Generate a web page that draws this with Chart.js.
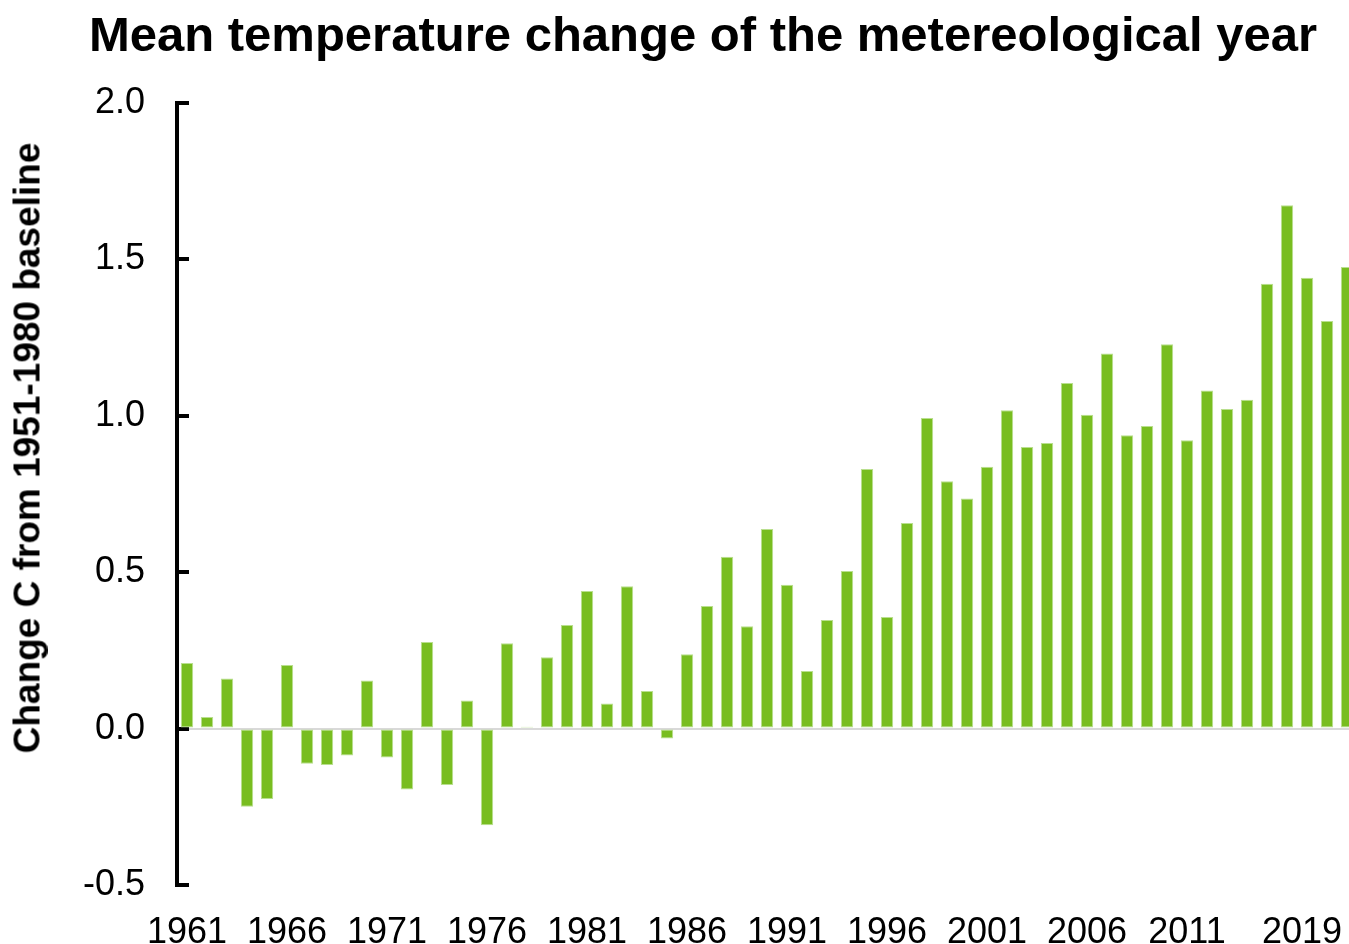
<!DOCTYPE html>
<html>
<head>
<meta charset="utf-8">
<title>Mean temperature change of the metereological year</title>
<script src="https://cdn.jsdelivr.net/npm/chart.js@4.4.1/dist/chart.umd.min.js"></script>
<style>
    body { margin: 0; background: #fff; }
    #wrap {
        position: relative; width: 1349px; height: 944px; overflow: hidden;
        font-family: 'Liberation Sans', Arial, sans-serif; color: #000;
    }
    #tempChart { position: absolute; left: 0; top: 0; }
    .chart-title {
        position: absolute; left: 0; top: 10px; width: 1406px; margin: 0;
        text-align: center; font-size: 49px; line-height: 49px; font-weight: bold; white-space: nowrap;
    }
    .y-title {
        position: absolute; left: 27px; top: 448px;
        transform: translate(-50%, -50%) rotate(-90deg);
        font-size: 37px; line-height: 37px; font-weight: bold; white-space: nowrap;
    }
</style>
</head>
<body>
<div id="wrap">
    <canvas id="tempChart" width="1357" height="944"></canvas>
    <h1 class="chart-title">Mean temperature change of the metereological year</h1>
    <div class="y-title">Change C from 1951-1980 baseline</div>
</div>

<script>
// years of the meteorological record
const years = [
    '1961', '1962', '1963', '1964', '1965', '1966', '1967', '1968', '1969', '1970',
    '1971', '1972', '1973', '1974', '1975', '1976', '1977', '1978', '1979', '1980',
    '1981', '1982', '1983', '1984', '1985', '1986', '1987', '1988', '1989', '1990',
    '1991', '1992', '1993', '1994', '1995', '1996', '1997', '1998', '1999', '2000',
    '2001', '2002', '2003', '2004', '2005', '2006', '2007', '2008', '2009', '2010',
    '2011', '2012', '2013', '2014', '2015', '2016', '2017', '2018', '2019'
];

// change in °C from the 1951-1980 baseline
const tempChange = [
    0.21, 0.037, 0.16, -0.25, -0.225, 0.203, -0.112, -0.116, -0.086, 0.154,
    -0.092, -0.195, 0.277, -0.18, 0.09, -0.309, 0.273, 0.006, 0.228, 0.331,
    0.44, 0.08, 0.455, 0.12, -0.032, 0.238, 0.392, 0.549, 0.327, 0.638,
    0.46, 0.184, 0.347, 0.504, 0.83, 0.357, 0.657, 0.993, 0.791, 0.736,
    0.837, 1.018, 0.9, 0.913, 1.105, 1.003, 1.199, 0.938, 0.967, 1.229,
    0.922, 1.081, 1.022, 1.051, 1.422, 1.673, 1.441, 1.303, 1.476
];

// which years get a label under the axis
const labelledYears = ['1961', '1966', '1971', '1976', '1981', '1986', '1991', '1996', '2001', '2006', '2011', '2019'];

const yTicks = [-0.5, 0, 0.5, 1.0, 1.5, 2.0];

Chart.defaults.font.family = "'Liberation Sans', Arial, sans-serif";
Chart.defaults.color = '#000';

new Chart(document.getElementById('tempChart').getContext('2d'), {
    type: 'bar',
    data: {
        labels: years,
        datasets: [{
            label: 'Change C from 1951-1980 baseline',
            data: tempChange,
            backgroundColor: '#78bd20',
            borderColor: '#b9df8e',
            borderWidth: 1,
            borderSkipped: false,
            barPercentage: 0.62,
            categoryPercentage: 1.0,
        }]
    },
    options: {
        responsive: false,
        animation: false,
        layout: { padding: { top: 103, right: 0, bottom: 0, left: 0 } },
        plugins: {
            legend: { display: false },
            title: { display: false },
        },
        scales: {
            x: {
                grid: { display: false, drawTicks: false },
                border: { display: false },
                ticks: {
                    autoSkip: false,
                    maxRotation: 0,
                    padding: 26,
                    font: { size: 36 },
                    callback: function (val, i) {
                        const y = years[i];
                        if (!labelledYears.includes(y)) return '';
                        // last label sits a little left of its bar in the source
                        return i === years.length - 1 ? y + '         ' : y;
                    }
                },
                afterFit: function (scale) {
                    scale.height = 59;
                    scale.paddingLeft = 0;
                    scale.paddingRight = 0;
                }
            },
            y: {
                min: yTicks[0],
                max: yTicks[yTicks.length - 1],
                afterBuildTicks: function (scale) {
                    scale.ticks = yTicks.map(v => ({ value: v }));
                },
                ticks: {
                    padding: 44,
                    font: { size: 36 },
                    callback: v => v.toFixed(1)
                },
                grid: {
                    color: ctx => ctx.tick && ctx.tick.value === 0 ? '#d9d9d9' : 'rgba(0,0,0,0)',
                    lineWidth: 2,
                    tickLength: -12,
                    tickColor: '#000',
                    tickWidth: 4,
                },
                border: { color: '#000', width: 4 },
                afterFit: function (scale) {
                    scale.width = 177;
                    scale.paddingTop = 0;
                    scale.paddingBottom = 0;
                }
            }
        }
    }
});
</script>
</body>
</html>
